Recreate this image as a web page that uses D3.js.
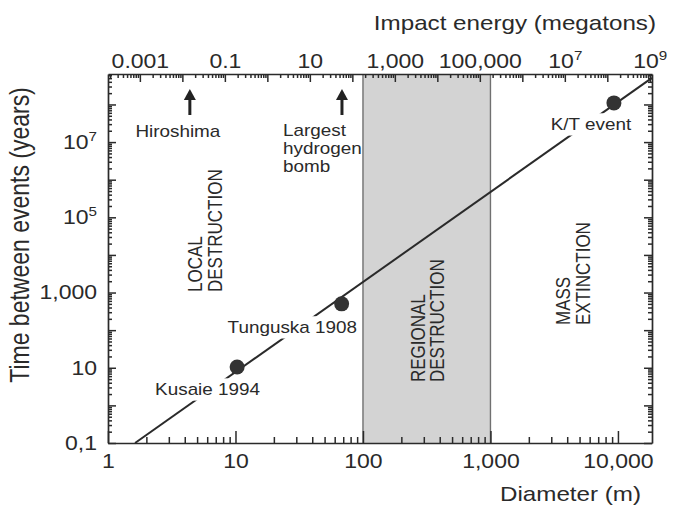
<!DOCTYPE html>
<html>
<head>
<meta charset="utf-8">
<script src="https://cdn.jsdelivr.net/npm/d3@7"></script>
<style>
  body { margin: 0; background: #fff; }
  svg  { display: block; font-family: "Liberation Sans", Arial, Helvetica, sans-serif; fill: #222; }
</style>
</head>
<body>
<svg id="chart" width="673" height="508"></svg>
<script>

// ---- values ----
const diameterTicks      = [1, 10, 100, 1000, 10000];
const diameterTickLabels = ["1", "10", "100", "1,000", "10,000"];
const intervalTicks      = [0.1, 10, 1000, 1e5, 1e7];
const intervalTickLabels = ["0,1", "10", "1,000", "10^5", "10^7"];
const energyTicks        = [0.001, 0.1, 10, 1000, 1e5, 1e7, 1e9];
const energyTickLabels   = ["0.001", "0.1", "10", "1,000", "100,000", "10^7", "10^9"];

// energy (Mt) of a 1 m body, read by lining up the two x axes (E ~ D^3)
const ENERGY_AT_1M = Math.pow(10, -3.75);

// ends of the trend line: diameter (m), years between events
const trendDiameter = [1.63, 18500];
const trendInterval = [0.1, 5.1e8];

const eventNames    = ["Kusaie 1994", "Tunguska 1908", "K/T event"];
const eventDiameter = [10.3, 68, 9300];
const eventInterval = [10.5, 500, 1.1e8];

const bombNames  = [["Hiroshima"], ["Largest", "hydrogen", "bomb"]];
const bombEnergy = [0.015, 57];

const regionalBand = [100, 1000];

// ---- layout ----
const SX = 1.18;   // the scan is a little wider than tall
const plotLeft = 108, plotRight = 652, plotTop = 74, plotBottom = 443;

const svg = d3.select("#chart");

const x = d3.scaleLog().domain([1, 18500]).range([plotLeft, plotRight]);
const y = d3.scaleLog().domain([0.1, Math.pow(10, 8.81)]).range([plotBottom, plotTop]);
const xE = d3.scaleLog()
  .domain(x.domain().map(d => ENERGY_AT_1M * d * d * d))
  .range([plotLeft, plotRight]);

function isDecade(v) {
  const l = Math.log10(v);
  return Math.abs(l - Math.round(l)) < 1e-9;
}

function stretchText(sel) {
  sel.attr("transform", "scale(" + SX + ",1)");
}

function superscripts(g) {
  g.selectAll(".tick text").each(function () {
    const t = d3.select(this);
    const s = t.text();
    if (s.indexOf("^") < 0) return;
    const parts = s.split("^");
    t.text(parts[0]);
    t.append("tspan").attr("font-size", "0.66em").attr("dy", "-0.62em").text(parts[1]);
  });
}

// shaded regional band
svg.append("rect")
  .attr("x", x(regionalBand[0]))
  .attr("y", plotTop)
  .attr("width", x(regionalBand[1]) - x(regionalBand[0]))
  .attr("height", plotBottom - plotTop)
  .attr("fill", "#d3d3d3");
svg.selectAll("line.band-edge")
  .data(regionalBand)
  .enter().append("line")
  .attr("class", "band-edge")
  .attr("x1", d => x(d)).attr("x2", d => x(d))
  .attr("y1", plotTop).attr("y2", plotBottom)
  .attr("stroke", "#707070").attr("stroke-width", 1.4);

// ---- axes: minor ticks first, then decade ticks with labels ----
function drawAxis(axisFn, scale, transform, minorLen, majorLen, values, labels, padding) {
  // 20 keeps d3's log ticks at 1..9 per decade for every axis here
  const all = scale.ticks(20);
  const minor = all.filter(v => !isDecade(v));
  const major = all.filter(isDecade);

  const gMinor = svg.append("g").attr("transform", transform)
    .call(axisFn(scale).tickValues(minor).tickSize(-minorLen).tickFormat(""));
  gMinor.select(".domain").remove();

  const gMajor = svg.append("g").attr("transform", transform)
    .call(axisFn(scale).tickValues(major).tickSize(-majorLen).tickSizeOuter(0)
      .tickPadding(padding)
      .tickFormat(v => {
        const i = values.findIndex(t => Math.abs(Math.log10(t) - Math.log10(v)) < 1e-9);
        return labels && i >= 0 ? labels[i] : "";
      }));

  [gMinor, gMajor].forEach(g => {
    g.selectAll(".tick line").attr("stroke", "#2a2a2a").attr("stroke-width", 1.5);
    g.selectAll(".domain").attr("stroke", "#2a2a2a").attr("stroke-width", 1.7);
    g.selectAll("text").attr("font-size", 19.5).attr("fill", "#2a2a2a")
      .attr("font-family", "'Liberation Sans', Arial, sans-serif");
  });
  superscripts(gMajor);
  stretchText(gMajor.selectAll(".tick text"));
  return gMajor;
}

drawAxis(d3.axisBottom, x, "translate(0," + plotBottom + ")", 6, 12, diameterTicks, diameterTickLabels, 11);
drawAxis(d3.axisTop, xE, "translate(0," + plotTop + ")", 4, 8, energyTicks, energyTickLabels, 6);
drawAxis(d3.axisLeft, y, "translate(" + plotLeft + ",0)", 4, 8, intervalTicks, intervalTickLabels, 9.3);
drawAxis(d3.axisRight, y, "translate(" + plotRight + ",0)", 4, 8, [], null, 0);

// ---- trend line ----
svg.append("path")
  .datum(d3.zip(trendDiameter, trendInterval))
  .attr("d", d3.line().x(d => x(d[0])).y(d => y(d[1])))
  .attr("fill", "none")
  .attr("stroke", "#2a2a2a")
  .attr("stroke-width", 2);

// text helper (horizontal or rotated), optional white mask behind
function addLabel(str, px, py, size, anchor, rotated, mask) {
  const g = svg.append("g")
    .attr("transform", rotated
      ? "translate(" + px + "," + py + ") rotate(-90) scale(1," + SX + ")"
      : "translate(" + px + "," + py + ") scale(" + SX + ",1)");
  const t = g.append("text")
    .attr("font-size", size)
    .attr("text-anchor", anchor)
    .attr("fill", "#2a2a2a")
    .text(str);
  if (mask) {
    const bb = t.node().getBBox();
    g.insert("rect", "text")
      .attr("x", bb.x - 2).attr("y", bb.y - 2)
      .attr("width", bb.width + 4).attr("height", bb.height + 4)
      .attr("fill", "#fff");
  }
  return g;
}

// event labels, placed relative to their dots
const eventOffsets = [[-82, 28, "start"], [-114, 29, "start"], [-23, 27, "middle"]];
eventNames.forEach((name, i) => {
  const o = eventOffsets[i];
  addLabel(name, x(eventDiameter[i]) + o[0], y(eventInterval[i]) + o[1], 16, o[2], false, true);
});

svg.selectAll("circle.event")
  .data(d3.range(eventNames.length))
  .enter().append("circle")
  .attr("class", "event")
  .attr("cx", i => x(eventDiameter[i]))
  .attr("cy", i => y(eventInterval[i]))
  .attr("r", 7.5)
  .attr("fill", "#333");

// ---- bomb arrows on the energy axis ----
bombEnergy.forEach((e, i) => {
  const ax = xE(e);
  svg.append("line")
    .attr("x1", ax).attr("x2", ax).attr("y1", 115).attr("y2", 97)
    .attr("stroke", "#222").attr("stroke-width", 3);
  svg.append("path")
    .attr("d", "M" + ax + ",89 L" + (ax - 6) + ",100 L" + (ax + 6) + ",100 Z")
    .attr("fill", "#222");
});
addLabel(bombNames[0][0], xE(bombEnergy[0]) - 12, 137, 16, "middle", false, false);
bombNames[1].forEach((line, j) => {
  addLabel(line, xE(bombEnergy[1]) - 59, 136 + j * 18, 16, "start", false, false);
});

// ---- zone labels ----
addLabel("LOCAL", 202, 292, 17, "start", true, false);
addLabel("DESTRUCTION", 222, 292, 17, "start", true, false);
addLabel("REGIONAL", 425, 382, 17, "start", true, false);
addLabel("DESTRUCTION", 444, 382, 17, "start", true, false);
addLabel("MASS", 570, 325, 17, "start", true, false);
addLabel("EXTINCTION", 590, 325, 17, "start", true, false);

// ---- axis titles ----
addLabel("Impact energy (megatons)", 656, 30, 20.5, "end", false, false);
addLabel("Diameter (m)", 641, 501, 20.5, "end", false, false);
addLabel("Time between events (years)", 29, 235, 23, "middle", true, false);

</script>
</body>
</html>
